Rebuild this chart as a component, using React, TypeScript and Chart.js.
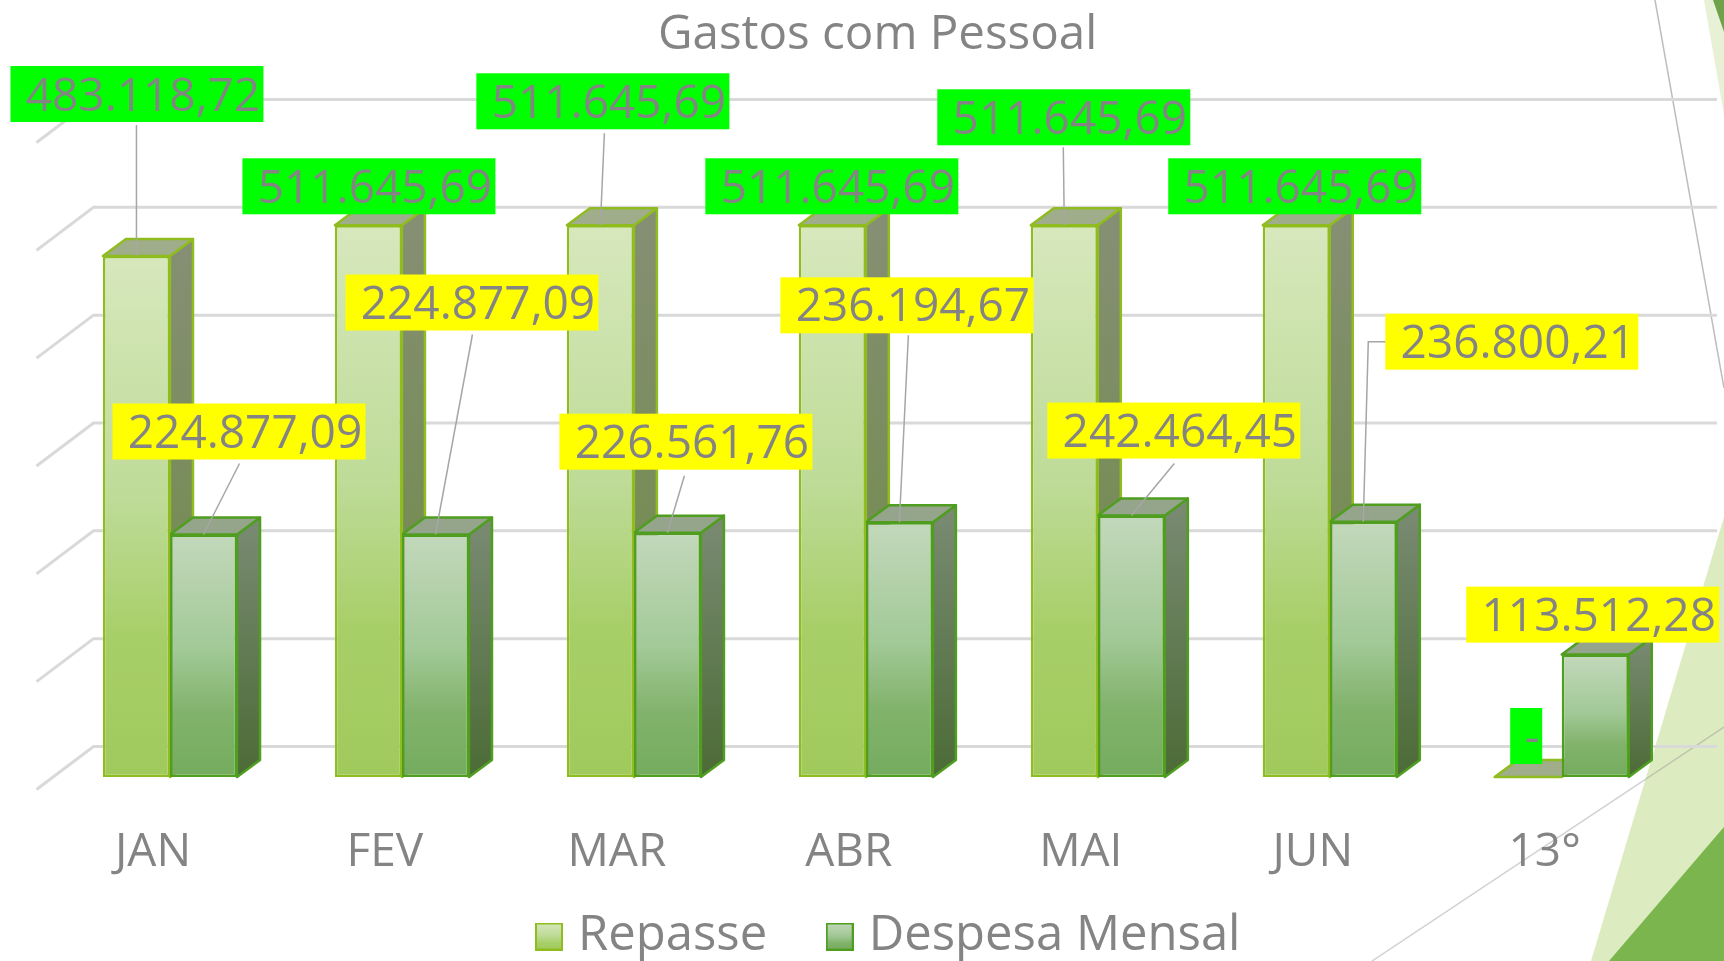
import React, { useEffect, useRef } from "react";
import { Chart, registerables } from "chart.js";

Chart.register(...registerables);

const FONT = "'Open Sans'";
const TEXT = "#848484";

const titleText = "Gastos com Pessoal";
const categories = ["JAN", "FEV", "MAR", "ABR", "MAI", "JUN", "13°"];
const repasseValues = [483118.72, 511645.69, 511645.69, 511645.69, 511645.69, 511645.69, 0];
const despesaValues = [224877.09, 224877.09, 226561.76, 236194.67, 242464.45, 236800.21, 113512.28];
const repasseLabels = ["483.118,72", "511.645,69", "511.645,69", "511.645,69", "511.645,69", "511.645,69", "-"];
const despesaLabels = ["224.877,09", "224.877,09", "226.561,76", "236.194,67", "242.464,45", "236.800,21", "113.512,28"];

// label box position relative to the top of its bar
const repasseLabelOffset = [[-126, -190], [-126, -67], [-124, -152], [-127, -67], [-127, -136], [-128, -67], [-18, -69]];
const despesaLabelOffset = [[-91, -131], [-90, -260], [-108, -119], [-119, -245], [-84, -113], [22, -208], [-129, -68]];
// leader line points, relative to the top of the bar
const repasseLeaders: (number[][] | null)[] = [[[0, -131]], null, [[4, -92]], null, [[-1, -78]], null, null];
const despesaLeaders: (number[][] | null)[] = [[[36, -71]], [[37, -200]], [[17, -57]], [[9, -187]], [[43, -52]], [[23, -180], [5, -180]], null];

const DEPTH_X = 23;
const DEPTH_Y = 17;
const WALL_X = 57;
const WALL_Y = 43;
const WALL_RISE = 30.5;
const GRID_RIGHT = 1717;

const repasseStyle = {
  front: ["#D7E8BD", "#BEDB97", "#A7CF68", "#A0CA5C"],
  side: ["#868F75", "#6B8A3E"],
  top: "#A0AD8A",
  border: "#8FBC1F",
  labelBg: "#00FF00",
};
const despesaStyle = {
  front: ["#C3D8BB", "#A2C997", "#82B36C", "#74AC5E"],
  side: ["#7A8B73", "#4C6B36"],
  top: "#94A58C",
  border: "#4F9E1F",
  labelBg: "#FFFF00",
};

function frontGradient(c: CanvasRenderingContext2D, y0: number, y1: number, stops: string[]) {
  const g = c.createLinearGradient(0, y0, 0, Math.max(y1, y0 + 1));
  g.addColorStop(0, stops[0]);
  g.addColorStop(0.47, stops[1]);
  g.addColorStop(0.73, stops[2]);
  g.addColorStop(1, stops[3]);
  return g;
}

function legendSwatch(style: typeof repasseStyle) {
  const s = document.createElement("canvas");
  s.width = 28;
  s.height = 28;
  const c = s.getContext("2d")!;
  c.fillStyle = frontGradient(c, 0, 28, style.front);
  c.fillRect(0, 0, 28, 28);
  c.strokeStyle = style.border;
  c.lineWidth = 2;
  c.strokeRect(1, 1, 26, 26);
  return s;
}

function poly(c: CanvasRenderingContext2D, pts: number[][], fill: any, stroke?: string, lw = 2.5) {
  c.beginPath();
  pts.forEach((p, i) => (i ? c.lineTo(p[0], p[1]) : c.moveTo(p[0], p[1])));
  c.closePath();
  c.fillStyle = fill;
  c.fill();
  if (stroke) {
    c.strokeStyle = stroke;
    c.lineWidth = lw;
    c.lineJoin = "round";
    c.stroke();
  }
}

const sceneryPlugin = {
  id: "scenery",
  beforeDraw(chart: any) {
    const c = chart.ctx;
    c.save();
    c.fillStyle = "#FFFFFF";
    c.fillRect(0, 0, 1724, 961);
    poly(c, [[1704, 0], [1724, 115], [1724, 0]], "#E8F1D6");
    poly(c, [[1713, 0], [1724, 32], [1724, 0]], "#6FA14A");
    poly(c, [[1724, 517], [1591, 961], [1724, 961]], "#DDEBC0");
    poly(c, [[1724, 827], [1609, 961], [1724, 961]], "#7AB54E");
    c.lineWidth = 1.5;
    c.strokeStyle = "rgba(150,150,150,0.45)";
    c.beginPath();
    c.moveTo(1372, 961);
    c.lineTo(1724, 727);
    c.stroke();
    c.strokeStyle = "#BDBDBD";
    c.beginPath();
    c.moveTo(1655, 0);
    c.lineTo(1724, 388);
    c.stroke();
    c.restore();
  },
  beforeLayout(chart: any) {
    const lg = chart.legend;
    if (lg && !lg.__patched) {
      const fit = lg.fit;
      lg.fit = function () {
        fit.call(this);
        this.height = 117;
      };
      lg.__patched = true;
    }
  },
  afterLayout(chart: any) {
    if (chart.titleBlock) {
      chart.titleBlock.left += 11.75;
      chart.titleBlock.right += 11.75;
    }
    if (chart.legend) chart.legend.left = 476.5;
    // the tick labels are clipped to the axis box: let them reach down to the legend
    if (chart.scales.x) chart.scales.x.bottom = 900;
  },
  beforeDatasetsDraw(chart: any) {
    const c = chart.ctx;
    const yScale = chart.scales.y;
    c.save();
    c.strokeStyle = "#D9D9D9";
    c.lineWidth = 3;
    yScale.ticks.forEach((t: any) => {
      const y = yScale.getPixelForValue(t.value) - WALL_RISE;
      const left = chart.chartArea.left + 39.5;
      c.beginPath();
      c.moveTo(left - WALL_X, y + WALL_Y);
      c.lineTo(left, y);
      c.lineTo(GRID_RIGHT, y);
      c.stroke();
    });
    [repasseStyle, despesaStyle].forEach((st, ds) => {
      chart.getDatasetMeta(ds).data.forEach((bar: any) => {
        const half = bar.width / 2;
        const l = bar.x - half;
        const r = bar.x + half;
        const t = bar.y;
        const b = bar.base;
        const side = c.createLinearGradient(0, t - DEPTH_Y, 0, Math.max(b, t));
        side.addColorStop(0, st.side[0]);
        side.addColorStop(1, st.side[1]);
        if (b - t > 1) {
          poly(c, [[r, t], [r + DEPTH_X, t - DEPTH_Y], [r + DEPTH_X, b - DEPTH_Y], [r, b]], side, st.border);
        }
        poly(c, [[l, t], [l + DEPTH_X, t - DEPTH_Y], [r + DEPTH_X, t - DEPTH_Y], [r, t]], st.top, st.border);
      });
    });
    c.restore();
  },
  afterDatasetsDraw(chart: any) {
    const c = chart.ctx;
    const sets = [
      { labels: repasseLabels, off: repasseLabelOffset, leaders: repasseLeaders, bg: repasseStyle.labelBg, textY: 4 },
      { labels: despesaLabels, off: despesaLabelOffset, leaders: despesaLeaders, bg: despesaStyle.labelBg, textY: 3 },
    ];
    c.save();
    c.strokeStyle = "#A6A6A6";
    c.lineWidth = 1.5;
    sets.forEach((s, ds) => {
      chart.getDatasetMeta(ds).data.forEach((bar: any, i: number) => {
        const pts = s.leaders[i];
        if (!pts) return;
        c.beginPath();
        pts.forEach((p, k) => {
          const x = bar.x + p[0];
          const y = bar.y + p[1];
          k ? c.lineTo(x, y) : c.moveTo(x, y);
        });
        c.lineTo(bar.x, bar.y);
        c.stroke();
      });
    });
    c.font = `46px ${FONT}`;
    c.textAlign = "center";
    c.textBaseline = "middle";
    sets.forEach((s, ds) => {
      chart.getDatasetMeta(ds).data.forEach((bar: any, i: number) => {
        const w = s.labels[i].length > 1 ? 253 : 32;
        const h = 56;
        const left = bar.x + s.off[i][0];
        const top = bar.y + s.off[i][1];
        c.fillStyle = s.bg;
        c.fillRect(left, top, w, h);
        c.fillStyle = TEXT;
        c.fillText(s.labels[i], left + w / 2 + 6, top + h / 2 + s.textY);
      });
    });
    c.restore();
  },
};

function barFill(stops: string[]) {
  return (ctx: any) => {
    const chart = ctx.chart;
    const scale = chart.scales.y;
    if (ctx.type !== "data" || !scale) return stops[1];
    return frontGradient(chart.ctx, scale.getPixelForValue(ctx.parsed.y), scale.getPixelForValue(0), stops);
  };
}

export default function App() {
  const ref = useRef<HTMLCanvasElement>(null);
  useEffect(() => {
    const swatches = [legendSwatch(repasseStyle), legendSwatch(despesaStyle)];
    const chart = new Chart(ref.current!, {
      type: "bar",
      plugins: [sceneryPlugin],
      data: {
        labels: categories,
        datasets: [
          {
            label: "Repasse",
            data: repasseValues,
            backgroundColor: barFill(repasseStyle.front),
            borderColor: repasseStyle.border,
            borderWidth: 2.5,
            borderSkipped: false,
          },
          {
            label: "Despesa Mensal",
            data: despesaValues,
            backgroundColor: barFill(despesaStyle.front),
            borderColor: despesaStyle.border,
            borderWidth: 2.5,
            borderSkipped: false,
          },
        ],
      } as any,
      options: {
        responsive: false,
        animation: false,
        layout: { padding: { left: 54, right: 46.3, top: 0, bottom: 0 } },
        datasets: { bar: { categoryPercentage: 0.578, barPercentage: 1 } },
        scales: {
          x: {
            grid: { display: false },
            border: { display: false },
            afterFit: (s: any) => {
              s.height = 67;
            },
            ticks: {
              color: TEXT,
              font: { family: FONT, size: 46 },
              labelOffset: -17,
              padding: 40,
              autoSkip: false,
              maxRotation: 0,
            },
          },
          y: {
            display: false,
            min: 0,
            max: 600000,
            ticks: { stepSize: 100000 },
          },
        },
        plugins: {
          tooltip: { enabled: false },
          title: {
            display: true,
            text: titleText,
            color: TEXT,
            font: { family: FONT, size: 47.5, weight: "normal" },
            padding: { top: 7, bottom: 66 },
          },
          legend: {
            display: true,
            position: "bottom",
            align: "start",
            labels: {
              color: TEXT,
              font: { family: FONT, size: 49 },
              usePointStyle: true,
              pointStyleWidth: 9,
              padding: 68,
              generateLabels: (c: any) =>
                c.data.datasets.map((d: any, i: number) => ({
                  text: d.label,
                  pointStyle: swatches[i],
                  fontColor: TEXT,
                  datasetIndex: i,
                  hidden: false,
                  lineWidth: 0,
                })),
            },
          },
        },
      } as any,
    });
    return () => chart.destroy();
  }, []);
  return (
    <canvas
      ref={ref}
      width={1724}
      height={961}
      style={{ position: "fixed", left: 0, top: 0, display: "block" }}
    />
  );
}
